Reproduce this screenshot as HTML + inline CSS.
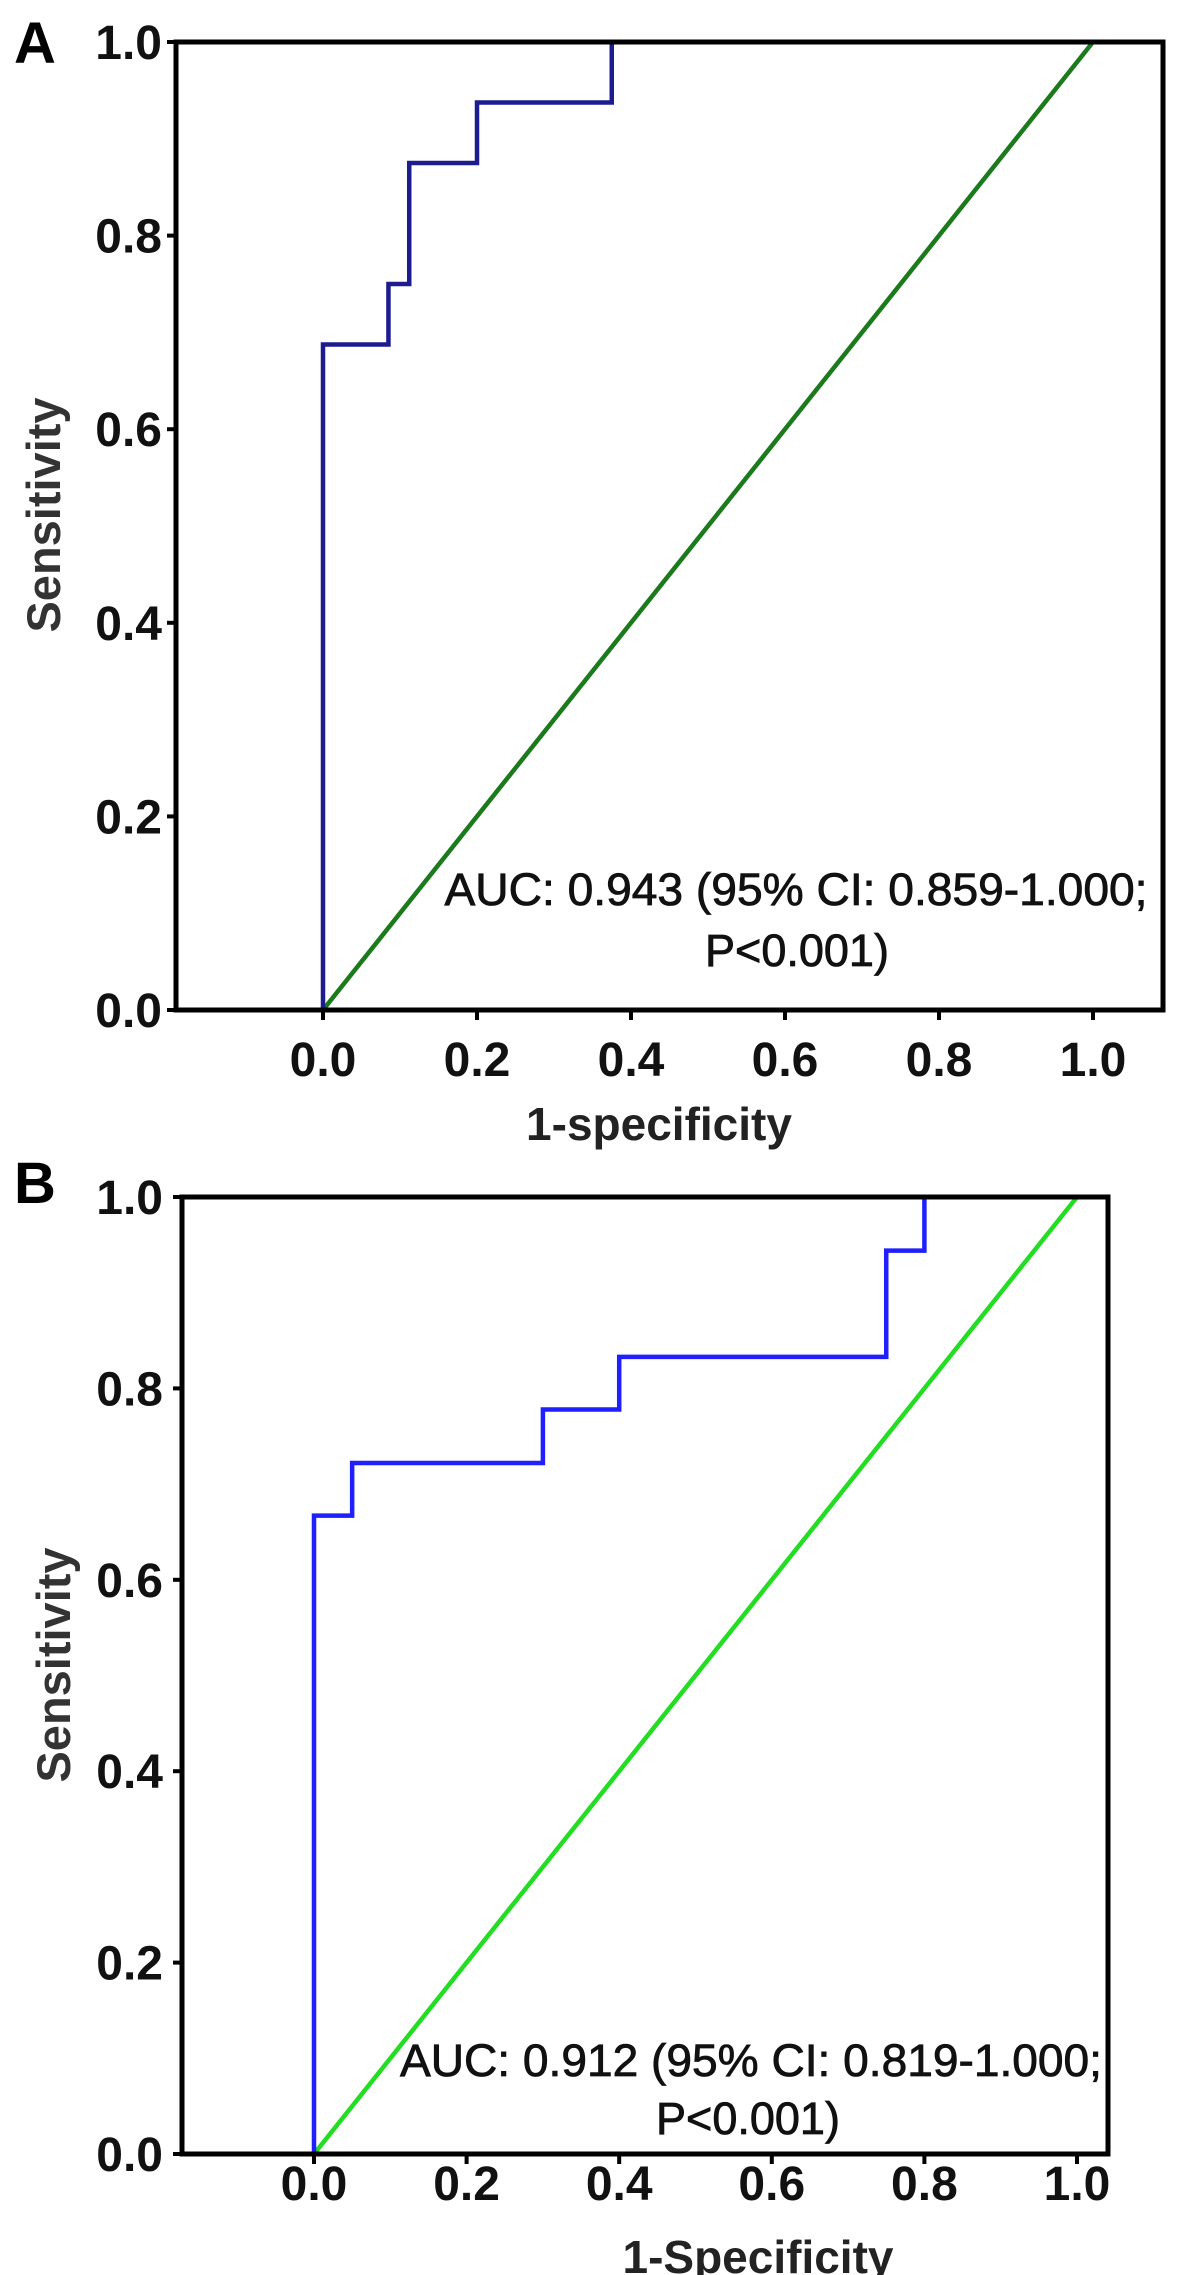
<!DOCTYPE html>
<html><head><meta charset="utf-8"><style>
html,body{margin:0;padding:0;background:#fff;}
svg{display:block;}
text{font-family:"Liberation Sans",Arial,sans-serif;}
</style></head><body>
<svg id="fig" width="1181" height="2275" viewBox="0 0 1181 2275">
<g id="panelA"></g>
<g id="panelB"></g>
</svg>
<script>
const ticks = [0, 0.2, 0.4, 0.6, 0.8, 1.0];
const tickLabels = ["0.0","0.2","0.4","0.6","0.8","1.0"];
const rocAx = [0, 0, 0.085, 0.085, 0.112, 0.112, 0.2, 0.2, 0.375, 0.375, 1];
const rocAy = [0, 0.6875, 0.6875, 0.75, 0.75, 0.875, 0.875, 0.9375, 0.9375, 1, 1];
const rocBx = [0, 0, 0.05, 0.05, 0.3, 0.3, 0.4, 0.4, 0.75, 0.75, 0.8, 0.8, 1];
const rocBy = [0, 0.667, 0.667, 0.722, 0.722, 0.778, 0.778, 0.833, 0.833, 0.944, 0.944, 1, 1];
const refX = [0, 1];
const refY = [0, 1];

const NS = "http://www.w3.org/2000/svg";
function mk(parent, tag, attrs, txt) {
  const e = document.createElementNS(NS, tag);
  for (const k in attrs) e.setAttribute(k, attrs[k]);
  if (txt !== undefined) e.textContent = txt;
  parent.appendChild(e);
  return e;
}

function drawPanel(g, cfg) {
  const sx = v => cfg.x0 + v * (cfg.x1 - cfg.x0);
  const sy = v => cfg.bottom - v * (cfg.bottom - cfg.top);
  const ref = mk(g, "polyline", {points: refX.map((v,i)=>sx(v)+","+sy(refY[i])).join(" "), fill:"none", stroke:cfg.green, "stroke-width":4.5});
  
  
  const roc = mk(g, "polyline", {points: cfg.xs.map((v,i)=>sx(v)+","+sy(cfg.ys[i])).join(" "), fill:"none", stroke:cfg.blue, "stroke-width":4.5, "stroke-linejoin":"miter"});
  
  
  const box = mk(g, "rect", {x:cfg.left, y:cfg.top, width:cfg.right-cfg.left, height:cfg.bottom-cfg.top, fill:"none", stroke:"#000", "stroke-width":5});
  
  
  ticks.forEach((t,i)=>{
    const yt = mk(g, "line", {x1:cfg.left-9, x2:cfg.left, y1:sy(t), y2:sy(t), stroke:"#000", "stroke-width":4});
    
    
    const yl = mk(g, "text", {x:cfg.ylabX, y:sy(t)+17, "text-anchor":"end", "font-size":48, "font-weight":"bold", fill:"#111"}, tickLabels[i]);
    
    
    const xt = mk(g, "line", {x1:sx(t), x2:sx(t), y1:cfg.bottom, y2:cfg.bottom+10, stroke:"#000", "stroke-width":4});
    
    
    const xl = mk(g, "text", {x:sx(t), y:cfg.xlabY, "text-anchor":"middle", "font-size":48, "font-weight":"bold", fill:"#111"}, tickLabels[i]);
    
    
  });
  const xt = mk(g, "text", {x:cfg.xtitleX, y:cfg.xtitleY, "text-anchor":"middle", "font-size":46, "font-weight":"bold", fill:"#222"}, cfg.xtitle);
  
  
  const yt = mk(g, "text", {x:0, y:0, transform:`translate(${cfg.ytitleX},${cfg.ytitleY}) rotate(-90)`, "text-anchor":"middle", "font-size":47, "font-weight":"bold", fill:"#333"}, "Sensitivity");
  
  
  const pl = mk(g, "text", {x:14, y:cfg.letterY, "font-size":58, "font-weight":"bold", fill:"#000"}, cfg.letter);
  
  
  const a1 = mk(g, "text", {x:cfg.aucX, y:cfg.aucY1, "text-anchor":"middle", "font-size":45, fill:"#111", stroke:"#111", "stroke-width":0.8, textLength:cfg.aucW, lengthAdjust:"spacingAndGlyphs"}, cfg.auc);
  
  
  const a2 = mk(g, "text", {x:cfg.aucX2, y:cfg.aucY2, "text-anchor":"middle", "font-size":45, fill:"#111", stroke:"#111", "stroke-width":0.8}, "P<0.001)");
  
  
}

drawPanel(document.getElementById("panelA"), {
  left:176, right:1163, top:42, bottom:1010, x0:323, x1:1093,
  xs:rocAx, ys:rocAy, blue:"#1c1c8e", green:"#1b7a1b",
  ylabX:162, xlabY:1076, xtitle:"1-specificity", xtitleX:659, xtitleY:1140,
  ytitleX:60, ytitleY:515, letter:"A", letterY:63,
  auc:"AUC: 0.943 (95% CI: 0.859-1.000;", aucX:796, aucY1:905, aucW:703, aucX2:797, aucY2:966
});
drawPanel(document.getElementById("panelB"), {
  left:182, right:1108, top:1197, bottom:2154, x0:314, x1:1077,
  xs:rocBx, ys:rocBy, blue:"#1f1fff", green:"#22dd22",
  ylabX:163, xlabY:2200, xtitle:"1-Specificity", xtitleX:758, xtitleY:2273,
  ytitleX:70, ytitleY:1665, letter:"B", letterY:1203,
  auc:"AUC: 0.912 (95% CI: 0.819-1.000;", aucX:751, aucY1:2076, aucW:702, aucX2:748, aucY2:2134
});
</script>
</body></html>
